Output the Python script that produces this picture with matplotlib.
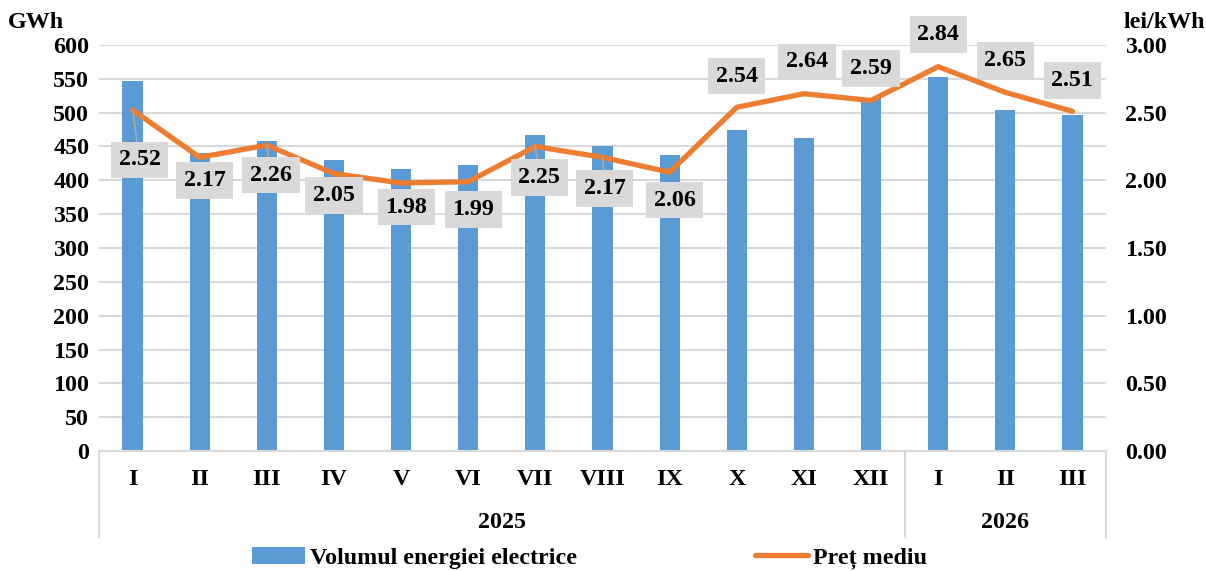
import matplotlib
matplotlib.use("Agg")
import matplotlib.pyplot as plt
from matplotlib.lines import Line2D
from matplotlib.patches import Patch
import numpy as np

plt.rcParams['font.family'] = ['Liberation Serif', 'DejaVu Serif']
plt.rcParams['font.weight'] = 'bold'

months = ["I", "II", "III", "IV", "V", "VI", "VII", "VIII", "IX", "X", "XI", "XII", "I", "II", "III"]
years = ["2025", "2026"]
year_counts = [12, 3]
volume = [547, 440, 458, 430, 417, 423, 467, 451, 438, 474, 463, 522, 552, 504, 496]
price = [2.52, 2.17, 2.26, 2.05, 1.98, 1.99, 2.25, 2.17, 2.06, 2.54, 2.64, 2.59, 2.84, 2.65, 2.51]
price_labels = ["2.52", "2.17", "2.26", "2.05", "1.98", "1.99", "2.25", "2.17", "2.06",
                "2.54", "2.64", "2.59", "2.84", "2.65", "2.51"]

# label offsets (pixels) and which labels show a leader line
label_offsets = [(7, -50), (5, -23), (4, -30), (0, -22), (5, -24), (5, -28), (4, -31), (2, -31),
                 (5, -28), (0, 31), (3, 32), (0, 32), (0, 32), (0, 32), (0, 31)]
leaders = {0, 2, 6, 7}

W, H = 1206, 571
fig = plt.figure(figsize=(W / 100, H / 100), dpi=100)
L, R, T, B = 99, 1106, 45, 451
ax = fig.add_axes([L / W, 1 - B / H, (R - L) / W, (B - T) / H])
ax2 = ax.twinx()

bar_color = "#5B9BD5"
line_color = "#ED7D31"
grid_color = "#D9D9D9"
fs = 17.3

x = np.arange(len(months))
ax.bar(x, volume, width=0.3, color=bar_color, zorder=2)
ax.set_xlim(-0.5, len(months) - 0.5)
ax.set_ylim(0, 600)
ax.set_yticks(np.arange(0, 601, 50))
ax.yaxis.grid(True, color=grid_color, lw=1.5, zorder=0)
ax.set_axisbelow(True)
for s in ["top", "right", "left"]:
    ax.spines[s].set_visible(False)
ax.spines["bottom"].set_color(grid_color)
ax.spines["bottom"].set_linewidth(1.5)
ax.tick_params(axis="y", length=0, pad=7, labelsize=fs)
ax.set_xticks(x)
ax.set_xticklabels(months, fontsize=fs, fontweight="bold")
ax.tick_params(axis="x", length=0, pad=13)

ax2.plot(x, price, color=line_color, lw=3.8, zorder=3, solid_capstyle="round", solid_joinstyle="round")
ax2.set_ylim(0, 3.0)
ax2.set_yticks(np.arange(0, 3.01, 0.5))
ax2.set_yticklabels([f"{v:.2f}" for v in np.arange(0, 3.01, 0.5)])
for s in ["top", "right", "left", "bottom"]:
    ax2.spines[s].set_visible(False)
ax2.tick_params(axis="y", length=0, pad=14, labelsize=fs)

for i, (v, lab) in enumerate(zip(price, price_labels)):
    dx, dy = label_offsets[i]
    kw = {}
    if i in leaders:
        kw["arrowprops"] = dict(arrowstyle="-", color="#A6A6A6", lw=1.3, shrinkA=0, shrinkB=0)
    ax2.annotate(lab, xy=(x[i], v), xytext=(dx, dy), textcoords="offset pixels",
                 ha="center", va="center", fontsize=fs, fontweight="bold", zorder=5,
                 bbox=dict(boxstyle="square,pad=0.32", fc="#D9D9D9", ec="none"), **kw)

# multi-level category axis: year labels and separators
ytrans = ax.get_xaxis_transform()
sep_bottom = (B - 537) / (B - T)
start = 0
bounds = [-0.5]
for yr, n in zip(years, year_counts):
    center = start + (n - 1) / 2
    ax.text(center, (B - 522) / (B - T), yr, transform=ytrans, ha="center", va="center",
            fontsize=fs, fontweight="bold")
    start += n
    bounds.append(start - 0.5)
for bx in bounds:
    ax.plot([bx, bx], [0, sep_bottom], transform=ytrans, color=grid_color, lw=1.5, clip_on=False)

fig.text(8 / W, 1 - 22 / H, "GWh", ha="left", va="center", fontsize=fs, fontweight="bold")
fig.text(1124 / W, 1 - 22 / H, "lei/kWh", ha="left", va="center", fontsize=fs, fontweight="bold")

handles = [Patch(facecolor=bar_color, edgecolor="none"),
           Line2D([0], [0], color=line_color, lw=3.8, solid_capstyle="round")]
fig.legend(handles, ["Volumul energiei electrice", "Preț mediu"], loc="center left",
           bbox_to_anchor=(252 / W, 1 - 558 / H), ncol=2, frameon=False, borderpad=0,
           borderaxespad=0, handlelength=2.2, handletextpad=0.22, columnspacing=7.4,
           prop={"size": fs, "weight": "bold"})

fig.savefig("out.png", dpi=100)
